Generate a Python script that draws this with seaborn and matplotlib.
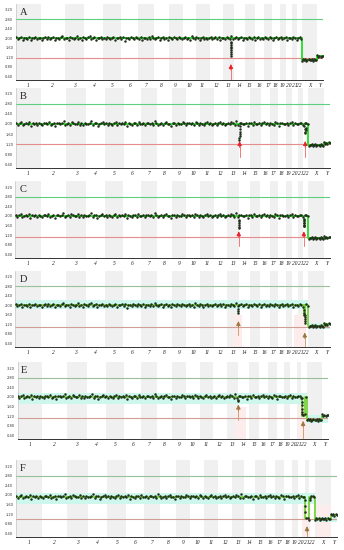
import numpy as np
import pandas as pd
import seaborn as sns
import matplotlib.pyplot as plt

# chromosome layout (Mb, hg19)
chrom_names = [str(i) for i in range(1, 23)] + ['X', 'Y']
chrom_len = [249, 243, 198, 191, 181, 171, 159, 146, 141, 136, 135, 134,
             115, 107, 103, 90, 81, 78, 59, 63, 48, 51, 155, 59]

y_ticks = [3.20, 2.80, 2.40, 2.00, 1.60, 1.20, 0.80, 0.40]

# bin-to-bin scatter around the segment level (hundredths)
dev_auto = [4, -3, 2, 8, -5, 1, 3, -2, 6, -7, 2, 0, 5, -4, 3, 1, -6, 2, 4, -1,
            7, -3, 1, 5, -8, 2, 3, -2, 4, 10, -4, 1, 2, -5, 6, 3, -2, 1, 9, -3,
            2, -6, 4, 1, -2, 5, 12, -3, 2, 4, -7, 1, 3, 6, -2, 2, -4, 5, 1, -3,
            3, 7, -5, 2, 0, 4, -2, 6, -9, 3, 1, -4, 5, 2, -3, 8, 1, -2, 4, -6,
            2, 3, -1, 5, -4, 11, 2, -3, 1, 4, -5, 3, 6, -2, 1, -7, 4, 2, -3, 5,
            1, -2, 7, 3, -4, 2, 5, -1, 3, -6, 9, 2, -3, 4, 1, -5, 2, 6, -2, 3,
            -4, 1, 5, -3, 2, 8, -2, 4, -6, 1, 3, -1, 6, 2, -4, 10, -3, 2, 5, -2,
            1, 4, -7, 3, 2, -3, 6, 1, -2, 4, -5, 3, 7, -1, 2, -4, 5, 1, -3, 6,
            2, -8, 3, 4, -2, 1, 5, -3, 2, 7, -5, 3, 1, -2, 4, 2, -6, 3, 5, -1]
dev_sex = [-3, 2, -1, 4, -5, 1, 3, -2, 0, 2, -4, 3, 1, -2, 5, -1, 2, -3, 4, 1]

# segments: (start Mb, end Mb, copy number)
segs_A = [(0, 2879, 2.0), (2879, 3034, 1.10), (3034, 3093, 1.24)]
segs_B = [(0, 2879, 2.0), (2879, 3034, 1.16), (3034, 3093, 1.23)]
segs_C = [(0, 2879, 2.0), (2879, 3034, 1.08), (3034, 3093, 1.10)]
segs_D = [(0, 2836, 2.0), (2836, 2852, 1.58), (2852, 2879, 2.0),
          (2879, 3034, 1.13), (3034, 3093, 1.20)]
segs_E = [(0, 2832, 2.0), (2832, 2866, 1.22), (2866, 2879, 2.0),
          (2879, 3034, 1.05), (3034, 3093, 1.22)]
segs_F = [(0, 2780, 1.92), (2780, 2828, 1.02), (2828, 2879, 1.92),
          (2879, 3034, 1.00), (3034, 3093, 1.17)]

# extra bins dropping off the baseline: (Mb, value)
streak_A = [(2163, 1.86), (2163.5, 1.79), (2164, 1.72), (2164.5, 1.65), (2165, 1.58),
            (2165.5, 1.50), (2166, 1.42), (2166.5, 1.33), (2167, 1.25)]
streak_B = [(2206, 1.90), (2205, 1.80), (2204, 1.70), (2203, 1.60), (2202, 1.52),
            (2201, 1.45), (2200, 1.38), (2840, 1.90), (2845, 1.80), (2848, 1.70),
            (2851, 1.66), (2854, 1.75), (2857, 1.85)]
streak_C = [(2195, 1.85), (2195.5, 1.77), (2196, 1.70), (2196.5, 1.62), (2197, 1.55),
            (2197.5, 1.48), (2833, 1.88), (2834, 1.80), (2835, 1.72), (2836, 1.64),
            (2837, 1.56), (2840, 1.84), (2841, 1.70), (2842, 1.58)]
streak_D = [(2191, 1.85), (2192, 1.75), (2193, 1.68), (2840, 1.80), (2841, 1.70),
            (2842, 1.60), (2843, 1.50), (2844, 1.42), (2845, 1.35), (2846, 1.28)]
streak_E = [(2200, 1.88), (2201, 1.82), (2831, 1.95), (2831.5, 1.80), (2832, 1.65),
            (2832.5, 1.50), (2833, 1.38), (2833.5, 1.30)]
streak_F = [(2781, 1.80), (2782, 1.55), (2783, 1.30), (2829, 1.80), (2830, 1.88)]

# arrows: (Mb, tip value, tail value)
arrows_A = [(2165, 0.92, 0.22)]
arrows_B = [(2203, 1.32, 0.68), (2849, 1.32, 0.68)]
arrows_C = [(2196, 1.36, 0.76), (2836, 1.36, 0.76)]
arrows_D = [(2192, 1.34, 0.75), (2845, 0.86, 0.28)]
arrows_E = [(2200, 1.68, 1.05), (2845, 1.00, 0.28)]
arrows_F = [(2804, 0.70, 0.20)]

# cyan normal-range bands: (start, end, low, high)
band_D = [(0, 2879, 1.87, 2.24), (2879, 3093, 1.00, 1.26)]
band_E = [(0, 2879, 1.71, 2.16), (2879, 3093, 0.93, 1.25)]
band_F = [(0, 2879, 1.62, 2.08), (2879, 3093, 0.88, 1.10)]
pink_D = [(2140, 2230), (2740, 2860)]
pink_E = [(2170, 2280), (2790, 2880)]
pink_F = [(2760, 2830), (2900, 3034)]

gain_line = 2.80
loss_line = {'A': 1.16, 'B': 1.20, 'C': 1.11, 'D': 1.11, 'E': 1.13, 'F': 0.98}

panels = [
    ('A', segs_A, streak_A, arrows_A, [], []),
    ('B', segs_B, streak_B, arrows_B, [], []),
    ('C', segs_C, streak_C, arrows_C, [], []),
    ('D', segs_D, streak_D, arrows_D, band_D, pink_D),
    ('E', segs_E, streak_E, arrows_E, band_E, pink_E),
    ('F', segs_F, streak_F, arrows_F, band_F, pink_F),
]

# pixel boxes (left, right, top, bottom)
boxes = {'A': (16, 323, 4, 80), 'B': (16, 330, 87.5, 168), 'C': (15.5, 330, 181, 258),
         'D': (15.5, 330, 271, 347), 'E': (17.5, 328, 362, 439), 'F': (16, 337, 460, 537)}

sns.set_style('white')
plt.rcParams['font.family'] = ['DejaVu Sans']

W, H = 344, 550
fig = plt.figure(figsize=(W / 100, H / 100), dpi=100)

starts = np.concatenate([[0], np.cumsum(chrom_len)[:-1]])
ends = np.cumsum(chrom_len)
centers = (starts + ends) / 2
genome_end = ends[-1]


def level_at(segs, x):
    out = np.empty(len(x))
    for s, e, v in segs:
        out[(x >= s) & (x < e)] = v
    return out


for name, segs, streak, arrows, bands, pinks in panels:
    l, r, t, b = boxes[name]
    ax = fig.add_axes([l / W, 1 - b / H, (r - l) / W, (b - t) / H])
    new_style = name in 'DEF'
    line_c = '#78d23e' if new_style else '#22dd22'
    dot_c = '#1f2f18'
    up_c = '#98c09a' if new_style else '#5ccf80'
    low_c = '#cf9f96' if new_style else '#e58c8c'
    arr_c = '#9c7540' if new_style else '#e8202a'
    shaft_c = '#c9a27a' if new_style else '#f07878'

    for i in range(0, len(chrom_len), 2):
        ax.axvspan(starts[i], ends[i], color='#f0f0f0', lw=0, zorder=0)
    for s, e in pinks:
        ax.fill_between([s, e], 0.25, 1.6, color='#fcecec', lw=0, zorder=0.5)
    for s, e, lo, hi in bands:
        ax.fill_between([s, e], lo, hi, color='#cdf6ec', lw=0, zorder=0.6)

    ax.axhline(gain_line, color=up_c, lw=0.8, zorder=1)
    ax.axhline(loss_line[name], color=low_c, lw=0.8, zorder=1)

    # scatter of bins
    xa = np.linspace(3, 2876, len(dev_auto))
    xs = np.linspace(2882, 3090, len(dev_sex))
    x_all = np.concatenate([xa, xs])
    y_all = level_at(segs, x_all) + np.array(dev_auto + dev_sex) / 100
    if streak:
        sx, sy = zip(*streak)
        x_all = np.concatenate([x_all, sx])
        y_all = np.concatenate([y_all, sy])
    pts = pd.DataFrame({'x': x_all, 'y': y_all})

    # segment line
    lx, ly = [], []
    for s, e, v in segs:
        lx += [s, e]
        ly += [v, v]
    sns.lineplot(x=lx, y=ly, estimator=None, sort=False, color=line_c, lw=1.3,
                 ax=ax, zorder=3)
    sns.scatterplot(data=pts, x='x', y='y', s=3.2, color=dot_c, linewidth=0,
                    ax=ax, zorder=4)

    for x, tip, tail in arrows:
        ax.plot([x, x], [tail, tip - 0.15], color=shaft_c, lw=0.7, zorder=5)
        ax.annotate('', xy=(x, tip), xytext=(x, tip - 0.25),
                    arrowprops=dict(arrowstyle='-|>', color=arr_c, lw=0.6,
                                    mutation_scale=6.5, shrinkA=0, shrinkB=0),
                    zorder=6)

    ax.set_xlim(0, genome_end)
    ax.set_ylim(0.25, 3.45)
    ax.set_xticks(centers)
    ax.set_xticklabels(chrom_names, fontsize=4, fontstyle='italic',
                       family='Liberation Serif', color='#222222')
    ax.set_yticks(y_ticks)
    ax.set_yticklabels([f'{v:.2f}' for v in y_ticks], fontsize=2.6, color='#333333')
    ax.tick_params(axis='x', length=0, pad=2)
    ax.tick_params(axis='y', length=1, width=0.3, pad=1, color='#777777')
    ax.set_xlabel('')
    ax.set_ylabel('')
    for sp in ['top', 'right']:
        ax.spines[sp].set_visible(False)
    ax.spines['left'].set_color('#bbbbbb')
    ax.spines['left'].set_linewidth(0.4)
    ax.spines['bottom'].set_color('#333333')
    ax.spines['bottom'].set_linewidth(0.7)
    ax.text(0.012, 0.95, name, transform=ax.transAxes, ha='left', va='top',
            fontsize=7.5, family='Liberation Serif', color='#222222', zorder=7)

fig.savefig('out.png', dpi=100, facecolor='white')
